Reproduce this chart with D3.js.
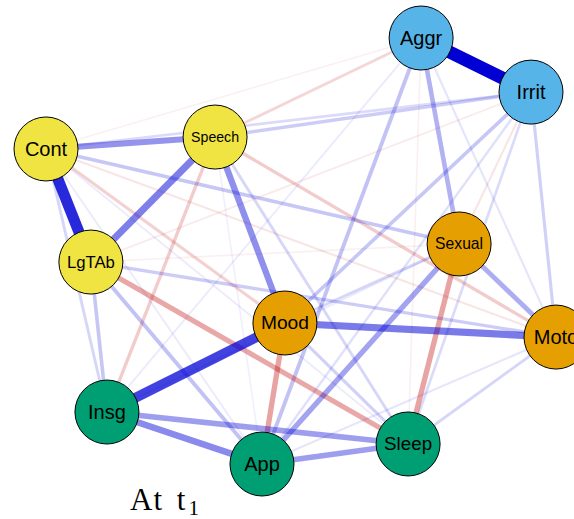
<!DOCTYPE html>
<html>
<head>
<meta charset="utf-8">
<script src="https://cdn.jsdelivr.net/npm/d3@7"></script>
<style>
  html, body { margin: 0; padding: 0; background: #ffffff; overflow: hidden; }
  svg { display: block; }
</style>
</head>
<body>
<svg id="net" width="574" height="519"></svg>
<script>
// Symptom nodes, their group and layout position (layout units, -1..1)
const nodeNames  = ["Aggr", "Irrit", "Cont", "Speech", "LgTAb", "Sexual", "Mood", "Moto", "Insg", "Sleep", "App"];
const nodeGroups = ["A", "A", "B", "B", "B", "C", "C", "C", "D", "D", "D"];
const layoutX    = [0.471, 0.902, -1.000, -0.337, -0.824, 0.620, -0.063, 1.000, -0.761, 0.420, -0.153];
const layoutY    = [1.000, 0.746, 0.479, 0.535, -0.052, 0.033, -0.338, -0.404, -0.756, -0.906, -1.000];

// Group fill colours
const groupKeys   = ["A", "B", "C", "D"];
const groupColors = ["#56B4E9", "#F0E442", "#E69F00", "#009E73"];

// Partial-correlation edges: source, target, weight
const edgeFrom = [
  "Aggr", "Cont", "Mood", "Mood", "Speech", "Cont", "Speech", "Insg", "Insg", "App",
  "Sexual", "Sexual", "Aggr", "Mood", "Sexual", "LgTAb", "Speech", "Speech", "Cont", "Speech",
  "Cont", "Cont", "Speech", "Cont", "Aggr", "Aggr", "Aggr", "Aggr", "Irrit", "Irrit",
  "Irrit", "Irrit", "Irrit", "Irrit", "Cont", "Cont", "Cont", "Speech", "Speech", "LgTAb",
  "LgTAb", "LgTAb", "Mood", "Mood", "Moto", "App", "LgTAb", "Insg", "Cont"
];
const edgeTo = [
  "Irrit", "LgTAb", "Insg", "Moto", "LgTAb", "Speech", "Mood", "App", "Sleep", "Sleep",
  "App", "Moto", "Sexual", "App", "Sleep", "Sleep", "Insg", "Moto", "Mood", "Aggr",
  "Aggr", "Moto", "Irrit", "Irrit", "App", "Insg", "Moto", "Sleep", "Moto", "Mood",
  "App", "Sleep", "Sexual", "LgTAb", "Sexual", "Insg", "App", "Sleep", "App", "Insg",
  "App", "Moto", "Sleep", "Sexual", "Sleep", "Moto", "Sexual", "Sexual", "Sleep"
];
const edgeWeight = [
  0.50, 0.42, 0.37, 0.26, 0.25, 0.21, 0.22, 0.23, 0.19, 0.19,
  0.18, 0.16, 0.15, -0.18, -0.18, -0.17, -0.10, -0.10, -0.09, -0.08,
  -0.03, -0.05, 0.10, 0.07, 0.12, 0.04, 0.05, -0.03, 0.09, 0.11,
  0.06, 0.07, -0.05, -0.04, 0.11, 0.08, 0.04, 0.08, 0.03, 0.11,
  0.12, 0.10, 0.09, 0.08, 0.08, 0.05, -0.03, 0.04, 0.04
];

const titleMain = "At t";
const titleSub  = "1";

const svg = d3.select("#net");

// Layout units -> pixels
const x = d3.scaleLinear().domain([-1, 1]).range([46, 556]);
const y = d3.scaleLinear().domain([-1, 1]).range([464, 38]);
const fill = d3.scaleOrdinal().domain(groupKeys).range(groupColors);

const maxW = d3.max(edgeWeight, w => Math.abs(w));
const widthScale = d3.scaleLinear().domain([0, maxW]).range([1, 13]);
const alphaScale = d3.scaleLinear().domain([0, maxW]).range([0, 1]);

const nodes = nodeNames.map((name, i) => ({
  name, group: nodeGroups[i], x: x(layoutX[i]), y: y(layoutY[i])
}));
const byName = new Map(nodes.map(n => [n.name, n]));

const edges = edgeFrom.map((s, i) => ({
  source: byName.get(s), target: byName.get(edgeTo[i]), w: edgeWeight[i]
})).sort((a, b) => Math.abs(a.w) - Math.abs(b.w));

// Edges: weaker ones underneath, stronger on top
svg.append("g")
  .selectAll("line")
  .data(edges)
  .join("line")
  .attr("x1", d => d.source.x)
  .attr("y1", d => d.source.y)
  .attr("x2", d => d.target.x)
  .attr("y2", d => d.target.y)
  .attr("stroke", d => d.w > 0 ? "#0000D5" : "#BF0000")
  .attr("stroke-opacity", d => alphaScale(Math.abs(d.w)))
  .attr("stroke-width", d => widthScale(Math.abs(d.w)))
  .attr("stroke-linecap", "butt");

// Nodes
const nodeRadius = 32;
const g = svg.append("g")
  .selectAll("g")
  .data(nodes)
  .join("g")
  .attr("transform", d => `translate(${d.x},${d.y})`);

g.append("circle")
  .attr("r", nodeRadius)
  .attr("fill", d => fill(d.group))
  .attr("stroke", "#000")
  .attr("stroke-width", 1);

// Labels shrink to fit inside the node
g.append("text")
  .text(d => d.name)
  .attr("text-anchor", "middle")
  .attr("dominant-baseline", "central")
  .attr("font-family", "Liberation Sans, Arial, sans-serif")
  .attr("font-size", 20)
  .attr("fill", "#000")
  .each(function () {
    const len = this.getComputedTextLength();
    const size = Math.min(20, 20 * 48 / len);
    d3.select(this).attr("font-size", size);
  });

// Title
const title = svg.append("text")
  .attr("x", 130)
  .attr("y", 510)
  .attr("font-family", "Liberation Serif, 'Times New Roman', serif")
  .attr("font-size", 31)
  .attr("letter-spacing", 1)
  .attr("word-spacing", 5)
  .attr("fill", "#000");
title.append("tspan").text(titleMain);
title.append("tspan").text(titleSub).attr("font-size", 21).attr("dx", 2).attr("dy", 5);
</script>
</body>
</html>
